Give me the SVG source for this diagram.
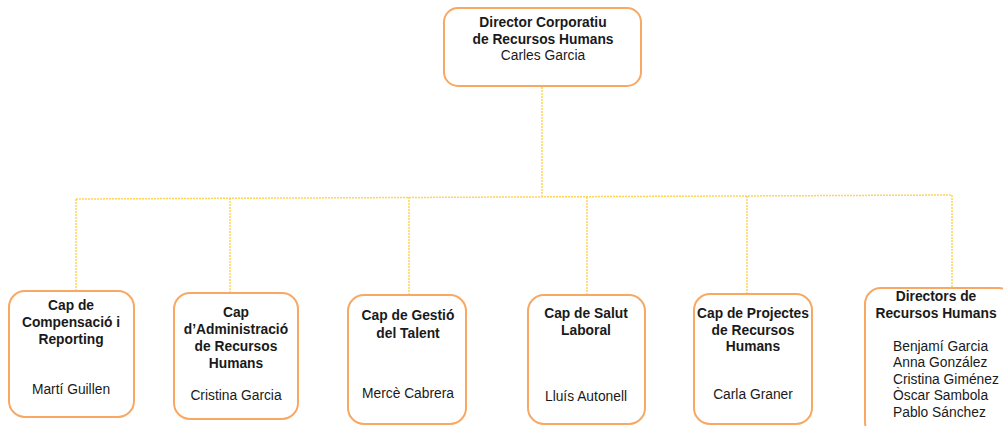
<svg xmlns="http://www.w3.org/2000/svg" width="1003" height="426" viewBox="0 0 1003 426">
<style>
.box{fill:#fff;stroke:#F8A862;stroke-width:2}
.b{font-family:"Liberation Sans",Arial,sans-serif;font-size:13.8px;font-weight:bold;fill:#1a1a1a;text-anchor:middle}
.r{font-family:"Liberation Sans",Arial,sans-serif;font-size:13.8px;fill:#1a1a1a;text-anchor:middle}
.l{text-anchor:start}
.c{stroke:#FFD457;stroke-width:1.5;stroke-dasharray:2 1;fill:none}
</style>
<rect width="1003" height="426" fill="#fff"/>
<g id="connectors">
<path class="c" d="M542 87V196"/>
<path class="c" d="M76 199L952 195"/>
<path class="c" d="M76 199V291"/>
<path class="c" d="M230 198V293"/>
<path class="c" d="M409 197V295"/>
<path class="c" d="M587 197V295"/>
<path class="c" d="M747 196V294"/>
<path class="c" d="M952 195V287"/>
</g>
<g id="n0">
<rect class="box" x="444" y="8" width="197" height="78" rx="14"/>
<text class="b" x="543" y="27">Director Corporatiu</text>
<text class="b" x="543" y="44">de Recursos Humans</text>
<text class="r" x="543" y="60">Carles Garcia</text>
</g>
<g id="n1">
<rect class="box" x="9" y="291" width="125" height="126" rx="16"/>
<text class="b" x="71" y="310">Cap de</text>
<text class="b" x="71" y="327">Compensació i</text>
<text class="b" x="71" y="344">Reporting</text>
<text class="r" x="71" y="394">Martí Guillen</text>
</g>
<g id="n2">
<rect class="box" x="174" y="293" width="124" height="126" rx="16"/>
<text class="b" x="236" y="317">Cap</text>
<text class="b" x="236" y="334">d’Administració</text>
<text class="b" x="236" y="351">de Recursos</text>
<text class="b" x="236" y="368">Humans</text>
<text class="r" x="236" y="400">Cristina Garcia</text>
</g>
<g id="n3">
<rect class="box" x="348" y="295" width="118" height="129" rx="16"/>
<text class="b" x="408" y="320">Cap de Gestió</text>
<text class="b" x="408" y="338">del Talent</text>
<text class="r" x="408" y="398">Mercè Cabrera</text>
</g>
<g id="n4">
<rect class="box" x="528" y="295" width="117" height="129" rx="16"/>
<text class="b" x="586" y="318">Cap de Salut</text>
<text class="b" x="586" y="335">Laboral</text>
<text class="r" x="586" y="401">Lluís Autonell</text>
</g>
<g id="n5">
<rect class="box" x="694" y="294" width="118" height="130" rx="16"/>
<text class="b" x="753" y="318">Cap de Projectes</text>
<text class="b" x="753" y="335">de Recursos</text>
<text class="b" x="753" y="351">Humans</text>
<text class="r" x="753" y="399">Carla Graner</text>
</g>
<g id="n6">
<rect class="box" x="865" y="288" width="150" height="150" rx="16"/>
<text class="b" x="936" y="301">Directors de</text>
<text class="b" x="936" y="318">Recursos Humans</text>
<text class="r l" x="893" y="351">Benjamí Garcia</text>
<text class="r l" x="893" y="367">Anna González</text>
<text class="r l" x="893" y="384">Cristina Giménez</text>
<text class="r l" x="893" y="400">Òscar Sambola</text>
<text class="r l" x="893" y="417">Pablo Sánchez</text>
</g>
</svg>
